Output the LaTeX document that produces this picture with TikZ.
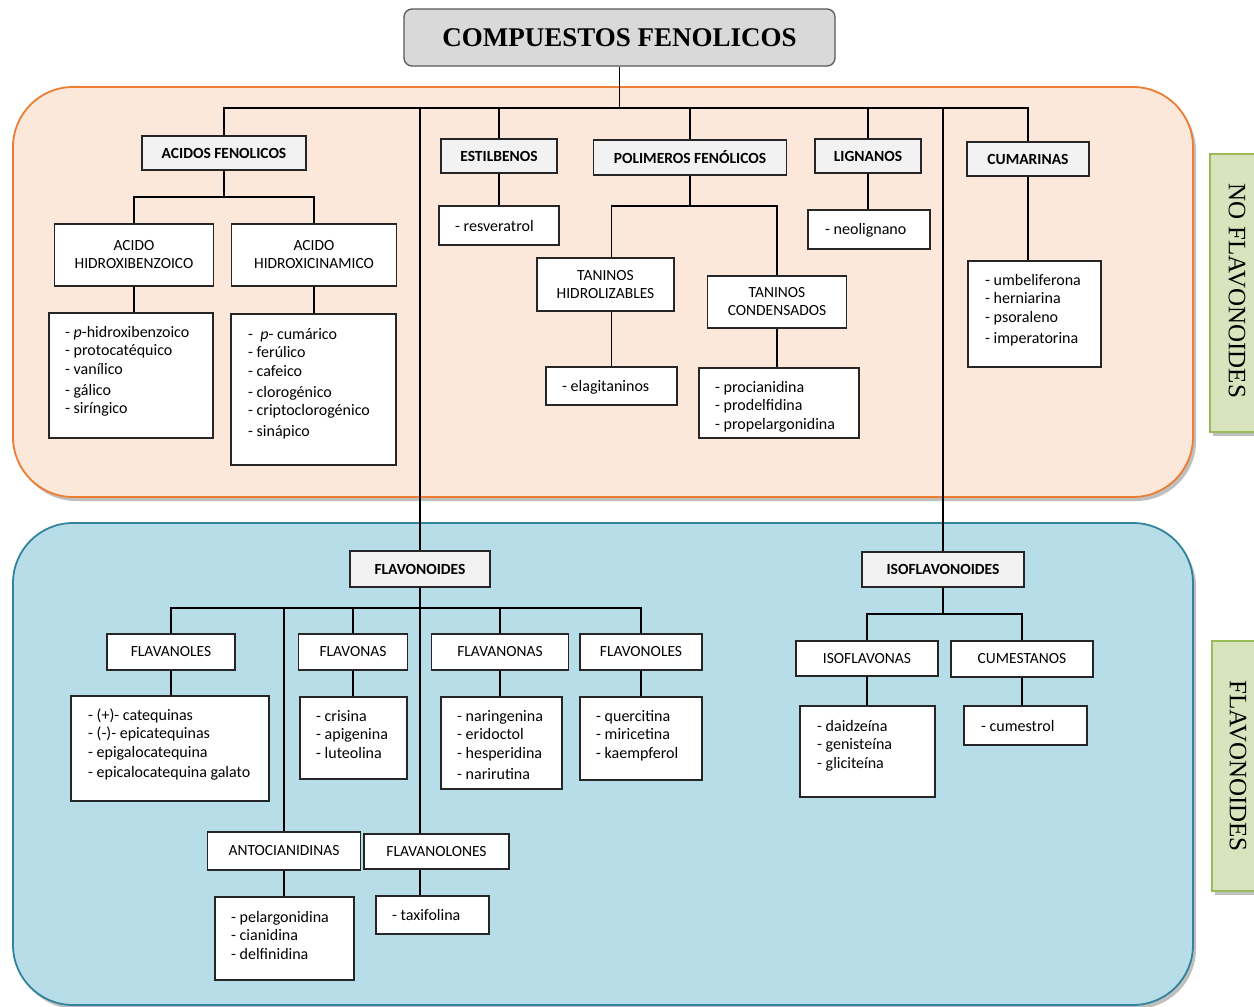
\documentclass[tikz,border=0pt]{standalone}
\usepackage{fontspec}
\setmainfont{Carlito}
\newfontfamily\tnr{Liberation Serif}
\usetikzlibrary{calc}
\pgfdeclarelayer{back}
\pgfdeclarelayer{lines}
\pgfsetlayers{back,lines,main}
\definecolor{orfill}{HTML}{FCE8DA}
\definecolor{ordraw}{HTML}{ED7D31}
\definecolor{blfill}{HTML}{B7DDE8}
\definecolor{bldraw}{HTML}{31849B}
\definecolor{grfill}{HTML}{D7E4BD}
\definecolor{grdraw}{HTML}{9BBB59}
\definecolor{hdrfill}{HTML}{F2F2F2}
\definecolor{titfill}{HTML}{D9D9D9}
\newcommand\lst[1]{\begin{tabular}[t]{@{}l@{}}#1\end{tabular}}
\tikzset{
  boxbase/.style={draw=black!85, line width=1.1pt, inner sep=0pt, align=center},
  hdr/.style={boxbase, fill=hdrfill, font=\fontsize{15.5}{18}\selectfont\bfseries},
  sub/.style={boxbase, fill=white, font=\fontsize{15.5}{18}\selectfont},
  lbox/.style={boxbase, fill=white},
  lt/.style={anchor=base west, inner sep=0pt, font=\fontsize{16}{18.5}\selectfont},
  conn/.style={draw=black, line width=1.7pt},
  region/.style={rounded corners=60pt, line width=1.8pt},
  shade/.style={fill=black, opacity=0.25},
  side/.style={rotate=-90, font=\tnr\fontsize{25}{25}\selectfont}
}
\begin{document}
\begin{tikzpicture}[x=1pt, y=-1pt]
\useasboundingbox (0,0) rectangle (1254,1007);

% regions
\begin{pgfonlayer}{back}
  \fill[shade, rounded corners=60pt] (16,91) rectangle (1196,501);
  \draw[region, fill=orfill, draw=ordraw] (13,87) rectangle (1193,497);
  \fill[shade, rounded corners=60pt] (16,527) rectangle (1196,1009);
  \draw[region, fill=blfill, draw=bldraw] (13,523) rectangle (1193,1005);
  \fill[shade] (1213,158) rectangle (1265,436);
  \draw[fill=grfill, draw=grdraw, line width=1.5pt] (1210,154) rectangle (1262,432);
  \fill[shade] (1215,645) rectangle (1265,895);
  \draw[fill=grfill, draw=grdraw, line width=1.5pt] (1212,641) rectangle (1262,891);
\end{pgfonlayer}

\node[side] (nfl) at (1237,291) {NO FLAVONOIDES};
\node[side] (fll) at (1238,766) {FLAVONOIDES};

% title
\node[draw=black!65, line width=1.3pt, fill=titfill, rounded corners=8pt,
      minimum width=431, minimum height=57, inner sep=0pt,
      font=\tnr\bfseries\fontsize{27}{30}\selectfont] (title) at (619.5,37.5) {COMPUESTOS FENOLICOS};

% upper level
\node[hdr, minimum width=164, minimum height=34] (acf) at (224,153) {ACIDOS FENOLICOS};
\node[hdr, minimum width=116, minimum height=34] (est) at (499,156) {ESTILBENOS};
\node[hdr, minimum width=193, minimum height=35] (pol) at (690,157.5) {POLIMEROS FENÓLICOS};
\node[hdr, minimum width=106, minimum height=34] (lig) at (868,156) {LIGNANOS};
\node[hdr, minimum width=122, minimum height=34] (cum) at (1028,159) {CUMARINAS};

\node[sub, minimum width=159, minimum height=62] (ahb) at (134,255) {ACIDO\\HIDROXIBENZOICO};
\node[sub, minimum width=165, minimum height=62] (ahc) at (314,255) {ACIDO\\HIDROXICINAMICO};
\node[sub, minimum width=137, minimum height=53] (thid) at (605.5,284.5) {TANINOS\\HIDROLIZABLES};
\node[sub, minimum width=139, minimum height=52] (tcon) at (777,302) {TANINOS\\CONDENSADOS};

\node[lbox, minimum width=164, minimum height=125] (ahbL) at (131,375.5) {};
\node[lbox, minimum width=165, minimum height=151] (ahcL) at (313.5,389.5) {};
\node[lbox, minimum width=120, minimum height=39] (res) at (499,225.5) {};
\node[lbox, minimum width=131, minimum height=38] (elag) at (611.5,386) {};
\node[lbox, minimum width=160, minimum height=70] (proc) at (779,403) {};
\node[lbox, minimum width=122, minimum height=39] (neo) at (869,229.5) {};
\node[lbox, minimum width=133, minimum height=106] (umb) at (1034.5,314) {};

\node[lt] (ahbT) at (65,337) {\lst{- \textit{p}-hidroxibenzoico\\ - protocatéquico\\ - vanílico\\[2.5pt] - gálico\\ - siríngico}};
\node[lt] (ahcT) at (248,339) {\lst{-\ \ \textit{p}- cumárico\\ - ferúlico\\ - cafeico\\[2.5pt] - clorogénico\\ - criptoclorogénico\\[2.5pt] - sinápico}};
\node[lt] (resT) at (455,231) {- resveratrol};
\node[lt] (elagT) at (562,391) {- elagitaninos};
\node[lt] (procT) at (715,392) {\lst{- procianidina\\ - prodelfidina\\ - propelargonidina}};
\node[lt] (neoT) at (825,234) {- neolignano};
\node[lt] (umbT) at (985,285) {\lst{- umbeliferona\\ - herniarina\\ - psoraleno\\[2.5pt] - imperatorina}};

% lower level
\node[hdr, minimum width=140, minimum height=36] (flav) at (420,569) {FLAVONOIDES};
\node[hdr, minimum width=162, minimum height=35] (iso) at (943,569.5) {ISOFLAVONOIDES};

\node[sub, minimum width=128, minimum height=36] (fl1) at (171,652) {FLAVANOLES};
\node[sub, minimum width=109, minimum height=36] (fl2) at (353,652) {FLAVONAS};
\node[sub, minimum width=137, minimum height=36] (fl3) at (500,652) {FLAVANONAS};
\node[sub, minimum width=122, minimum height=36] (fl4) at (641,652) {FLAVONOLES};
\node[sub, minimum width=153, minimum height=38] (anto) at (284,851) {ANTOCIANIDINAS};
\node[sub, minimum width=145, minimum height=35] (flvl) at (436.5,851.5) {FLAVANOLONES};
\node[sub, minimum width=142, minimum height=35] (isoa) at (867,658.5) {ISOFLAVONAS};
\node[sub, minimum width=142, minimum height=36] (cume) at (1022,659) {CUMESTANOS};

\node[lbox, minimum width=198, minimum height=105] (l1) at (170,748.5) {};
\node[lbox, minimum width=107, minimum height=82] (l2) at (353.5,738) {};
\node[lbox, minimum width=121, minimum height=92] (l3) at (501.5,743) {};
\node[lbox, minimum width=122, minimum height=83] (l4) at (641,738.5) {};
\node[lbox, minimum width=139, minimum height=83] (pel) at (284.5,938.5) {};
\node[lbox, minimum width=113, minimum height=38] (tax) at (432.5,915) {};
\node[lbox, minimum width=135, minimum height=91] (dai) at (867.5,751.5) {};
\node[lbox, minimum width=123, minimum height=39] (cst) at (1025.5,725.5) {};

\node[lt] (l1T) at (88,720) {\lst{- (+)- catequinas\\ - (-)- epicatequinas\\ - epigalocatequina\\[1.5pt] - epicalocatequina galato}};
\node[lt] (l2T) at (316,721) {\lst{- crisina\\ - apigenina\\ - luteolina}};
\node[lt] (l3T) at (457,721) {\lst{- naringenina\\ - eridoctol\\ - hesperidina\\[2.5pt] - narirutina}};
\node[lt] (l4T) at (596,721) {\lst{- quercitina\\ - miricetina\\ - kaempferol}};
\node[lt] (pelT) at (231,922) {\lst{- pelargonidina\\ - cianidina\\ - delfinidina}};
\node[lt] (taxT) at (392,920) {- taxifolina};
\node[lt] (daiT) at (817,731) {\lst{- daidzeína\\ - genisteína\\ - gliciteína}};
\node[lt] (cstT) at (981,731) {- cumestrol};

% bus coordinates
\coordinate (b0) at (619,108);
\coordinate (ba) at (224,197);
\coordinate (bp) at (690,206);
\coordinate (b2) at (420,608);
\coordinate (b3) at (943,614);

\begin{pgfonlayer}{lines}
  % top bus
  \draw[conn] (title.south) -- (title.south |- b0);
  \draw[conn] (acf.north) -- (acf.north |- b0) -- (cum.north |- b0) -- (cum.north);
  \draw[conn] (est.north |- b0) -- (est.north);
  \draw[conn] (pol.north |- b0) -- (pol.north);
  \draw[conn] (lig.north |- b0) -- (lig.north);
  \draw[conn] (flav.north |- b0) -- (flav.north);
  \draw[conn] (iso.north |- b0) -- (iso.north);
  % acidos fenolicos
  \draw[conn] (acf.south) -- (ba);
  \draw[conn] (ahb.north) |- (ba) -| (ahc.north);
  \draw[conn] (ahb.south) -- (ahb.south |- ahbL.north);
  \draw[conn] (ahc.south) -- (ahc.south |- ahcL.north);
  % estilbenos
  \draw[conn] (est.south) -- (est.south |- res.north);
  % polimeros
  \draw[conn] (pol.south) -- (bp);
  \draw[conn] (elag.north) -- (elag.north |- bp) -- (tcon.north |- bp) -- (tcon.north);
  \draw[conn] (tcon.south) -- (tcon.south |- proc.north);
  % lignanos, cumarinas
  \draw[conn] (lig.south) -- (lig.south |- neo.north);
  \draw[conn] (cum.south) -- (cum.south |- umb.north);
  % flavonoides
  \draw[conn] (flav.south) -- (flav.south |- tax.north);
  \draw[conn] (fl1.north) -- (fl1.north |- b2) -- (fl4.north |- b2) -- (fl4.north);
  \draw[conn] (fl2.north |- b2) -- (fl2.north);
  \draw[conn] (fl3.north |- b2) -- (fl3.north);
  \draw[conn] (anto.north |- b2) -- (anto.north |- pel.north);
  \draw[conn] (fl1.south) -- (fl1.south |- l1.north);
  \draw[conn] (fl2.south) -- (fl2.south |- l2.north);
  \draw[conn] (fl3.south) -- (fl3.south |- l3.north);
  \draw[conn] (fl4.south) -- (fl4.south |- l4.north);
  % isoflavonoides
  \draw[conn] (iso.south) -- (b3);
  \draw[conn] (isoa.north) |- (b3) -| (cume.north);
  \draw[conn] (isoa.south) -- (isoa.south |- dai.north);
  \draw[conn] (cume.south) -- (cume.south |- cst.north);
\end{pgfonlayer}
\end{tikzpicture}
\end{document}
